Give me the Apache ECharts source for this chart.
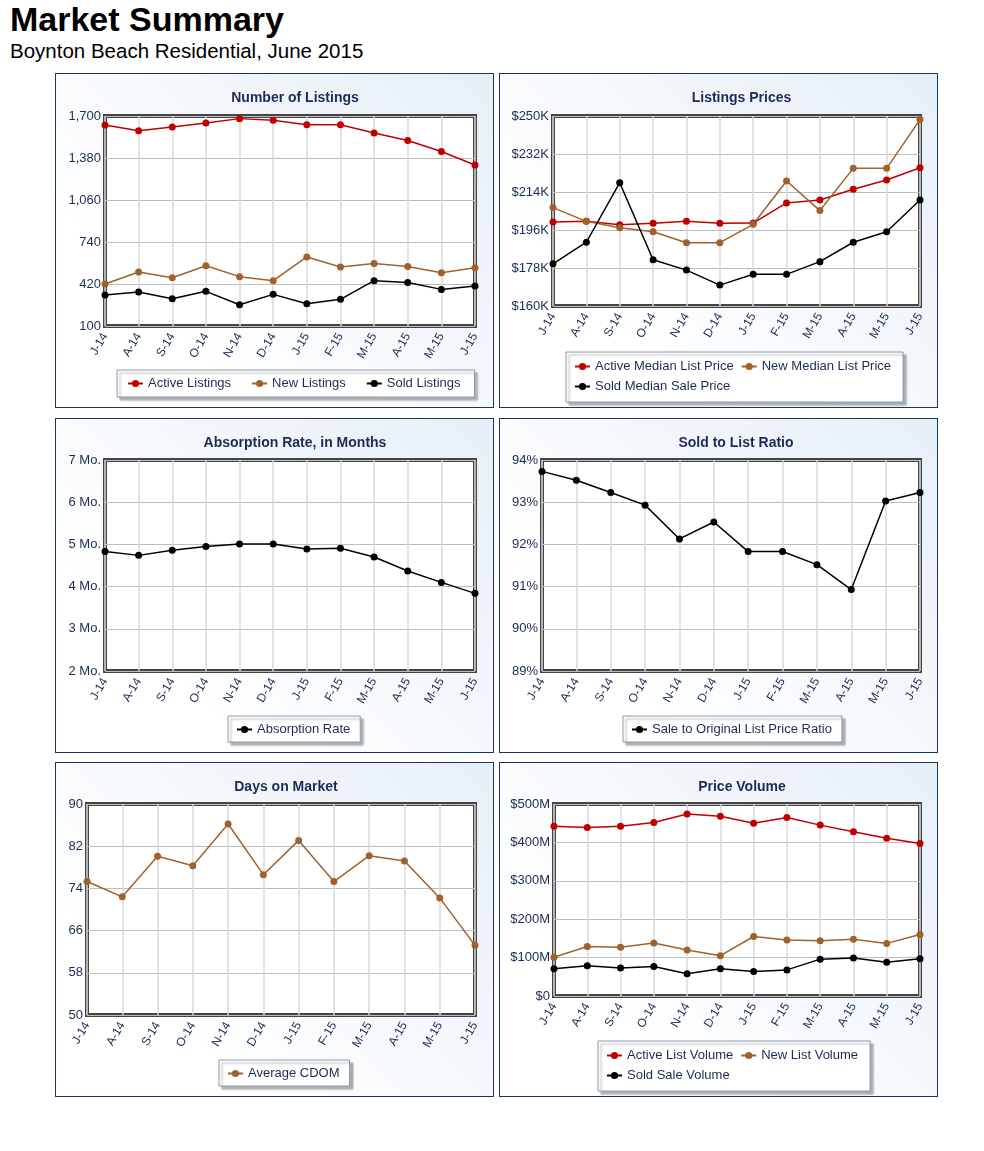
<!DOCTYPE html>
<html>
<head>
<meta charset="utf-8">
<script src="https://cdn.jsdelivr.net/npm/echarts@6/dist/echarts.min.js"></script>
<style>
  html, body { margin: 0; padding: 0; background: #fff; }
  body { width: 984px; height: 1151px; position: relative; font-family: "Liberation Sans", Arial, sans-serif; }
  #h1 { position: absolute; left: 10px; top: 0px; font-size: 34px; font-weight: bold; color: #000; }
  #h2 { position: absolute; left: 10px; top: 39px; font-size: 20.5px; color: #000; }
  .panel { position: absolute; width: 437px; height: 333px; border: 1px solid #17385a;
           background: linear-gradient(45deg, #ffffff 25%, #e6eef7 100%); }
</style>
</head>
<body>
<div id="h1">Market Summary</div>
<div id="h2">Boynton Beach Residential, June 2015</div>
<div class="panel" id="p1" style="left:55px; top:73px;"></div>
<div class="panel" id="p2" style="left:499px; top:73px;"></div>
<div class="panel" id="p3" style="left:55px; top:418px;"></div>
<div class="panel" id="p4" style="left:499px; top:418px;"></div>
<div class="panel" id="p5" style="left:55px; top:762px;"></div>
<div class="panel" id="p6" style="left:499px; top:762px;"></div>
<script>
// ---- data ----
const months = ['J-14','A-14','S-14','O-14','N-14','D-14','J-15','F-15','M-15','A-15','M-15','J-15'];

const activeListings = [1631, 1588, 1616, 1647, 1680, 1667, 1634, 1634, 1571, 1513, 1429, 1327];
const newListings    = [420, 511, 468, 559, 476, 445, 626, 549, 577, 554, 506, 544];
const soldListings   = [336, 359, 308, 364, 262, 341, 270, 303, 445, 432, 379, 404];

const activeMedianListPrice = [199.8, 200.1, 198.5, 199.2, 200.1, 199.2, 199.3, 208.8, 210.2, 215.3, 219.7, 225.5];
const newMedianListPrice    = [206.6, 200.1, 197.1, 195.2, 190.0, 190.0, 198.7, 219.2, 205.2, 225.2, 225.2, 248.3];
const soldMedianSalePrice   = [180.0, 190.2, 218.4, 181.9, 177.0, 169.9, 175.0, 175.0, 181.0, 190.2, 195.2, 210.2];

const absorptionRate = [4.83, 4.74, 4.86, 4.95, 5.01, 5.01, 4.89, 4.91, 4.70, 4.37, 4.10, 3.84];

const saleToListRatio = [93.73, 93.52, 93.23, 92.93, 92.13, 92.53, 91.83, 91.83, 91.52, 90.93, 93.03, 93.23];

const averageCDOM = [75.3, 72.4, 80.1, 78.3, 86.2, 76.6, 83.1, 75.3, 80.2, 79.2, 72.2, 63.2];

const activeListVolume = [442, 439, 442, 452, 474, 468, 450, 465, 445, 428, 411, 397];
const newListVolume    = [101, 129, 127, 138, 120, 105, 155, 146, 144, 148, 137, 160];
const soldSaleVolume   = [71, 79, 73, 77, 58, 71, 64, 68, 96, 99, 88, 97];

const yTicks1 = { min: 100, max: 1700, interval: 320 };
const yTicks2 = { min: 160, max: 250, interval: 18 };
const yTicks3 = { min: 2, max: 7, interval: 1 };
const yTicks4 = { min: 89, max: 94, interval: 1 };
const yTicks5 = { min: 50, max: 90, interval: 8 };
const yTicks6 = { min: 0, max: 500, interval: 100 };

// ---- styling ----
const RED = '#c00000', BROWN = '#a0622d', BLACK = '#000000';
const NAVY = '#1b2b55';
const FONT = '"Liberation Sans", Arial, sans-serif';

function build(id, cfg) {
  const chart = echarts.init(document.getElementById(id), null, { renderer: 'canvas' });
  const g = cfg.grid;
  chart.setOption({
    animation: false,
    textStyle: { fontFamily: FONT },
    title: {
      text: cfg.title, left: g.left + g.width / 2, top: 12, textAlign: 'center',
      textStyle: { fontSize: 14, fontWeight: 'bold', color: NAVY, fontFamily: FONT }
    },
    grid: {
      left: g.left, top: g.top, width: g.width, height: g.height, show: true,
      backgroundColor: '#ffffff', borderColor: '#454545', borderWidth: 4
    },
    legend: Object.assign({
      show: true,
      backgroundColor: '#ffffff', borderColor: '#8a9bb0', borderWidth: 1,
      shadowColor: 'rgba(0,0,0,0.3)', shadowBlur: 2, shadowOffsetX: 3, shadowOffsetY: 3,
      itemWidth: 15, itemHeight: 9, itemGap: 22,
      textStyle: { fontSize: 13, color: NAVY, fontFamily: FONT },
      data: cfg.series.map(s => s.name)
    }, cfg.legend),
    xAxis: {
      type: 'category', data: months, boundaryGap: false,
      axisLine: { show: false }, axisTick: { show: false },
      axisLabel: { rotate: 60, fontSize: 12, color: NAVY, margin: 8, interval: 0 },
      splitLine: { show: true, lineStyle: { color: '#d9d9d9', width: 1.5 } }
    },
    yAxis: {
      type: 'value', min: cfg.y.min, max: cfg.y.max, interval: cfg.y.interval,
      axisLine: { show: false }, axisTick: { show: false },
      axisLabel: { fontSize: 13, color: NAVY, margin: 4, formatter: cfg.fmt, showMinLabel: true, showMaxLabel: true },
      splitLine: { show: true, lineStyle: { color: '#bdbdbd', width: 1 } }
    },
    series: cfg.series.map(s => ({
      name: s.name, type: 'line', data: s.data,
      symbol: 'circle', symbolSize: 7,
      itemStyle: { color: s.color },
      lineStyle: { color: s.color, width: 1.5 }
    }))
  });
}

const comma = v => v.toLocaleString('en-US');

build('p1', {
  title: 'Number of Listings',
  grid: { left: 49, top: 42, width: 370, height: 210 },
  y: yTicks1, fmt: comma,
  legend: { left: 61, top: 296, width: 360, padding: [7, 14, 7, 10], itemGap: 20 },
  series: [
    { name: 'Active Listings', data: activeListings, color: RED },
    { name: 'New Listings', data: newListings, color: BROWN },
    { name: 'Sold Listings', data: soldListings, color: BLACK }
  ]
});

build('p2', {
  title: 'Listings Prices',
  grid: { left: 53, top: 42, width: 367, height: 190 },
  y: yTicks2, fmt: v => '$' + v + 'K',
  legend: { left: 66, top: 278, width: 340, padding: [8, 12, 9, 8], itemGap: 7 },
  series: [
    { name: 'Active Median List Price', data: activeMedianListPrice, color: RED },
    { name: 'New Median List Price', data: newMedianListPrice, color: BROWN },
    { name: 'Sold Median Sale Price', data: soldMedianSalePrice, color: BLACK }
  ]
});

build('p3', {
  title: 'Absorption Rate, in Months',
  grid: { left: 49, top: 41, width: 370, height: 211 },
  y: yTicks3, fmt: v => v + ' Mo.',
  legend: { left: 172, top: 297, padding: [7, 10, 6, 8] },
  series: [
    { name: 'Absorption Rate', data: absorptionRate, color: BLACK }
  ]
});

build('p4', {
  title: 'Sold to List Ratio',
  grid: { left: 42, top: 41, width: 378, height: 211 },
  y: yTicks4, fmt: v => v + '%',
  legend: { left: 123, top: 297, padding: [7, 10, 6, 8] },
  series: [
    { name: 'Sale to Original List Price Ratio', data: saleToListRatio, color: BLACK }
  ]
});

build('p5', {
  title: 'Days on Market',
  grid: { left: 31, top: 41, width: 388, height: 211 },
  y: yTicks5, fmt: v => String(v),
  legend: { left: 163, top: 297, padding: [7, 10, 6, 8] },
  series: [
    { name: 'Average CDOM', data: averageCDOM, color: BROWN }
  ]
});

build('p6', {
  title: 'Price Volume',
  grid: { left: 54, top: 41, width: 366, height: 192 },
  y: yTicks6, fmt: v => '$' + v + (v === 0 ? '' : 'M'),
  legend: { left: 98, top: 278, width: 275, padding: [8, 12, 9, 8], itemGap: 7 },
  series: [
    { name: 'Active List Volume', data: activeListVolume, color: RED },
    { name: 'New List Volume', data: newListVolume, color: BROWN },
    { name: 'Sold Sale Volume', data: soldSaleVolume, color: BLACK }
  ]
});
</script>
</body>
</html>
